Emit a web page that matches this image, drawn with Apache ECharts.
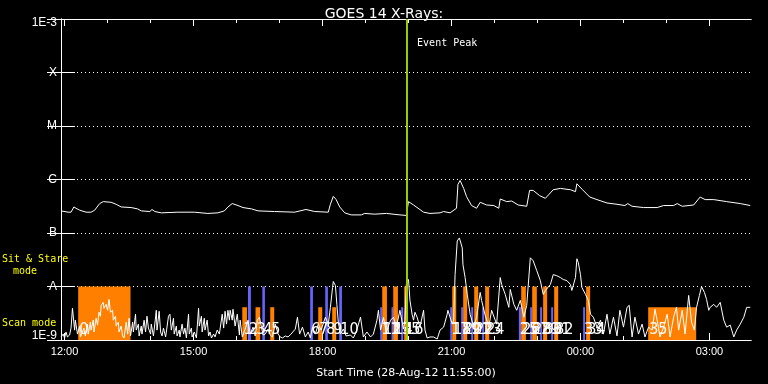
<!DOCTYPE html>
<html><head><meta charset="utf-8">
<script src="https://cdn.jsdelivr.net/npm/echarts@6/dist/echarts.min.js"></script>
<style>html,body{margin:0;padding:0;background:#000;}#c{width:768px;height:384px;}</style>
</head><body><div id="c"></div>
<script>
// ---- axis / labels ----
const titleText = 'GOES 14 X-Rays:';
const xAxisTitle = 'Start Time (28-Aug-12 11:55:00)';
// time unit: minutes after start (11:55)
const xMinMinutes = 0;
const xMaxMinutes = 963;
const majorTickMinutes = [5, 185, 365, 545, 725, 905];
const majorTickLabels = ['12:00', '15:00', '18:00', '21:00', '00:00', '03:00'];
const minorTickMinutes = [65, 125, 245, 305, 425, 485, 605, 665, 785, 845];
const yTickExponents = [-9, -8, -7, -6, -5, -4, -3];
const yTickLabels = ['1E-9', 'A', 'B', 'C', 'M', 'X', '1E-3'];
const eventPeakMinutes = 483;
const eventPeakText = 'Event Peak';
const sitStareText = ['Sit & Stare', 'mode'];
const scanText = 'Scan mode';

// ---- GOES long channel (1-8 A), flux in units of 1e-7 W/m^2 ----
const longTime = [0,10,14,18,21,26,35,42,47,54,59,70,77,84,98,107,112,124,127,131,140,163,186,205,219,228,233,239,247,254,266,275,298,326,342,354,373,376,380,384,389,396,405,419,424,438,454,473,482,485,492,506,515,529,534,543,552,554,557,562,566,573,580,585,594,604,611,613,622,629,638,650,654,659,668,676,687,697,711,718,720,727,738,748,762,776,787,791,797,813,832,841,855,860,867,883,892,899,911,929,948,962];
const longFluxE7 = [2.59,2.45,2.45,3.07,2.90,2.67,2.45,2.45,2.67,3.55,3.86,3.75,3.44,3.07,2.99,2.82,2.59,2.52,2.75,2.52,2.38,2.45,2.45,2.32,2.38,2.59,3.07,3.55,3.26,2.99,2.82,2.59,2.52,2.45,2.75,2.52,2.45,3.44,4.84,4.21,3.07,2.38,2.18,2.18,2.32,2.25,2.32,2.18,2.13,3.86,3.34,2.45,2.32,2.38,2.52,2.38,2.90,8.08,9.58,6.81,4.78,3.26,2.90,3.75,3.34,3.26,2.90,4.32,3.86,3.96,3.34,3.16,6.25,6.25,4.99,4.45,6.44,6.81,6.44,5.92,8.32,6.61,4.70,4.21,3.64,3.44,3.26,3.55,3.16,2.99,2.99,3.26,3.26,3.55,3.16,3.34,4.70,4.21,4.21,3.86,3.55,3.26];

// ---- GOES short channel (0.5-4 A), flux in units of 1e-9 W/m^2 ----
const shortTime = [0,3,5,7,9,12,14,16,19,20,23,26,27,30,32,34,37,38,41,42,45,46,49,51,53,55,56,59,60,63,65,67,69,72,73,76,77,80,81,84,86,88,91,93,95,97,100,101,104,105,108,109,112,113,116,118,120,122,125,126,129,130,133,134,137,139,141,143,146,147,150,152,154,157,158,161,162,165,166,169,171,173,175,178,179,182,183,186,189,192,193,196,197,200,201,204,206,208,210,213,215,218,221,225,227,229,231,233,235,236,239,240,243,246,249,250,253,257,261,264,268,271,274,277,280,282,285,289,292,295,299,303,306,309,313,317,321,327,330,333,337,341,345,348,351,355,359,363,369,373,376,379,380,383,385,387,390,394,398,404,408,412,418,422,427,432,436,441,443,446,450,454,460,464,468,473,478,480,482,485,487,490,492,494,497,501,506,508,511,515,520,525,529,534,539,540,546,548,550,553,556,560,561,564,567,571,576,580,585,587,592,597,601,608,613,615,620,625,627,632,636,641,646,650,655,659,664,669,673,676,683,687,692,697,701,706,711,713,715,718,720,722,725,727,732,736,739,743,748,753,757,762,766,771,776,780,785,790,793,797,801,806,811,815,820,825,829,833,836,841,846,850,855,859,862,867,871,876,880,884,887,891,894,898,901,904,906,911,915,920,925,929,934,939,943,948,953,957,962];
const shortFluxE9 = [1.14,1.29,1.09,1.41,1.14,1.24,1.67,3.91,1.53,2.35,1.29,1.82,1.14,1.41,1.67,1.19,1.98,1.29,2.15,1.53,2.35,1.41,2.55,1.9,3.3,2.78,4.45,5.05,3.91,4.64,3.59,5.74,3.3,3.59,2.35,2.78,1.82,2.15,1.41,1.82,1.19,1.09,2.15,1.29,2.55,1.19,2.15,1.41,3.03,1.53,1.98,1.19,1.82,1.29,2.35,1.41,2.78,1.67,1.29,1.98,1.19,1.53,3.59,1.53,3.44,1.41,1.19,1.67,1.14,1.41,2.78,3.03,1.53,2.55,1.29,1.82,1.19,1.53,1.14,1.98,1.29,1.67,1.09,3.03,1.29,1.67,1.14,1.41,1.09,3.91,1.82,2.78,1.41,2.55,1.53,2.35,1.19,1.41,1.09,1.29,1.14,1.53,1.29,3.03,1.67,3.44,1.98,3.59,2.35,3.59,2.35,3.75,1.82,3.03,1.24,2.35,1.14,1.6,2.35,1.29,1.74,1.19,2.35,2.67,1.67,1.24,1.29,1.6,1.24,1.14,1.98,1.29,1.14,1.09,1.19,1.14,1.29,1.6,2.67,1.29,1.74,1.14,1.41,1.09,1.74,1.29,1.98,1.53,2.67,1.98,4.08,9.6,12.4,10.4,4.64,2.15,1.29,1.6,1.19,1.24,1.09,1.41,2.67,1.14,1.41,1.14,1.29,2.35,3.59,1.53,2.67,1.41,2.35,2.67,1.74,3.59,1.6,2.35,10.9,13.5,5.5,3.03,2.35,3.3,2.67,1.74,3.59,1.53,1.09,1.14,1.14,1.04,1.53,1.74,3.03,3.59,1.98,2.35,16.7,71,80.9,52.7,25.5,14.7,7.11,3.03,1.74,2.67,7.74,5.5,2.9,1.74,3.59,1.98,14.7,10.9,7.11,4.08,8.8,4.64,3.59,5.5,2.67,4.45,34.4,30.3,19.8,12.9,7.11,8.43,10.9,16.7,15.9,14.7,13.5,12.9,10.9,8.43,7.74,14.7,33,27.8,16.7,9.6,7.11,5.5,3.03,2.67,1.74,2.35,1.29,3.03,1.29,2.67,1.19,3.59,1.74,4.08,4.45,1.14,2.67,1.29,1.98,1.14,1.74,1.53,3.75,1.98,1.14,1.74,3.03,1.14,2.67,4.08,1.53,3.59,1.29,6.81,2.15,1.53,4.08,6.81,10,7.74,5.74,3.59,4.08,4.64,4.08,5.05,2.35,1.74,1.9,1.14,1.53,1.98,2.67,4.08,4.08];

// ---- observation blocks (minutes after start) ----
const obsStart = [24,253,261,271.5,281,292,347.8,359,368.8,378.5,388.3,445.5,448.3,461.3,463.7,474.8,479,543.2,546,558.5,561.3,572.5,576.7,587.8,592,639,642.3,654.8,657.6,668.7,672.9,684.1,688.3,728.7,732.9,819.5];
const obsEnd   = [97,259.5,265,278,284.6,297.6,351.6,364.6,372.5,384.1,392.1,448.3,454.9,464.1,470.2,477.6,484,546,551.6,561.3,566.9,575.3,582.3,590.6,597.6,642.3,648.8,657.6,664.1,671.5,678.5,686.9,693.9,731.5,738.5,886.5];
const obsColorKey = ['o','o','b','o','b','o','b','o','b','o','b','b','o','b','o','b','o','b','o','b','o','b','o','b','o','b','o','b','o','b','o','b','o','b','o','o'];
const obsMode = ['sit','scan','sit','scan','sit','scan','sit','scan','sit','scan','sit','scan','sit','scan','sit','scan','sit','scan','sit','scan','sit','scan','sit','scan','sit','scan','sit','scan','sit','scan','sit','scan','sit','scan','sit','scan'];
const modeLevel = { sit: 1e-8, scan: 4.1e-9 };

const ORANGE = '#ff8000', BLUE = '#6464ff', GREEN = '#99cc00', YELLOW = '#ffff00';
const FONT = 'Liberation Sans';
const WIDE = 'DejaVu Sans';
const MONO = 'DejaVu Sans Mono';

const longData = longTime.map((t, i) => [t, longFluxE7[i] * 1e-7]);
const shortData = shortTime.map((t, i) => [t, shortFluxE9[i] * 1e-9]);
const obsData = obsStart.map((s, i) => [s, obsEnd[i], modeLevel[obsMode[i]], obsColorKey[i] === 'o' ? 0 : 1, i]);

const chart = echarts.init(document.getElementById('c'), null, { renderer: 'canvas' });

function xAxisDef(pos, ticks, len, labels) {
  return {
    type: 'value', position: pos, min: xMinMinutes, max: xMaxMinutes,
    axisLine: { show: true, onZero: false, lineStyle: { color: '#fff', width: 1 } },
    axisTick: { show: true, inside: true, length: len, customValues: ticks, lineStyle: { color: '#fff' } },
    axisLabel: labels ? {
      show: true, customValues: majorTickMinutes, color: '#fff', fontFamily: FONT, fontSize: 11, margin: 6,
      formatter: v => { const k = majorTickMinutes.indexOf(Math.round(v)); return k >= 0 ? majorTickLabels[k] : ''; }
    } : { show: false },
    splitLine: { show: false }
  };
}
function yAxisDef(pos, labels) {
  return {
    type: 'log', logBase: 10, position: pos, min: 1e-9, max: 1e-3, splitNumber: 6,
    axisLine: { show: true, lineStyle: { color: '#fff', width: 1 } },
    axisTick: { show: true, inside: true, length: 14, lineStyle: { color: '#fff' } },
    axisLabel: labels ? {
      show: true, color: '#fff', fontFamily: FONT, fontSize: 12, margin: 4,
      rich: { up: { fontFamily: FONT, fontSize: 12, color: '#fff', padding: [0, 0, 8, 0] },
              down: { fontFamily: FONT, fontSize: 12, color: '#fff', padding: [8, 0, 0, 0] } },
      formatter: v => {
        const e = Math.round(Math.log10(v));
        const k = yTickExponents.indexOf(e);
        if (k < 0) return '';
        if (k === 0) return '{up|' + yTickLabels[k] + '}';
        if (k === yTickExponents.length - 1) return '{down|' + yTickLabels[k] + '}';
        return yTickLabels[k];
      }
    } : { show: false },
    splitLine: labels ? { show: true, lineStyle: { color: '#fff', width: 1, type: [1, 3] } } : { show: false }
  };
}

const bottomX = xAxisDef('bottom', majorTickMinutes, 7, true);
bottomX.name = xAxisTitle;
bottomX.nameLocation = 'middle';
bottomX.nameGap = 28;
bottomX.nameTextStyle = { color: '#fff', fontFamily: WIDE, fontSize: 11 };

chart.setOption({
  animation: false,
  backgroundColor: '#000',
  title: { text: titleText, left: 'center', top: 2, textStyle: { color: '#fff', fontFamily: WIDE, fontSize: 14, fontWeight: 'normal' } },
  grid: { left: 61, right: 17, top: 19, bottom: 41, containLabel: false },
  xAxis: [bottomX, xAxisDef('bottom', minorTickMinutes, 4, false), xAxisDef('top', majorTickMinutes, 7, false), xAxisDef('top', minorTickMinutes, 4, false)],
  yAxis: [yAxisDef('left', true), yAxisDef('right', false)],
  series: [
    {
      type: 'custom', name: 'obs', xAxisIndex: 0, yAxisIndex: 0, z: 1,
      data: obsData, encode: { x: [0, 1], y: 2 },
      renderItem: (params, api) => {
        const p1 = api.coord([api.value(0), api.value(2)]);
        const p2 = api.coord([api.value(1), 1e-9]);
        return { type: 'rect', shape: { x: p1[0], y: p1[1], width: p2[0] - p1[0], height: p2[1] - p1[1] },
          style: { fill: api.value(3) === 0 ? ORANGE : BLUE } };
      }
    },
    {
      type: 'line', name: 'long', data: longData, showSymbol: false, z: 3,
      lineStyle: { color: '#fff', width: 1 },
      markLine: { silent: true, symbol: 'none', label: { show: false },
        lineStyle: { color: GREEN, width: 2, type: 'solid' }, data: [{ xAxis: eventPeakMinutes }] }
    },
    { type: 'line', name: 'short', data: shortData, showSymbol: false, z: 3, lineStyle: { color: '#fff', width: 1 } },
    {
      type: 'custom', name: 'obsLabels', z: 4, data: obsData, encode: { x: 0, y: 2 },
      renderItem: (params, api) => {
        const p = api.coord([api.value(0), 1e-9]);
        return { type: 'text', x: p[0] + 1, y: p[1] - 2,
          style: { text: String(api.value(4)), fill: '#fff', font: '16px "DejaVu Sans Condensed", "Liberation Sans Narrow", sans-serif',
            textAlign: 'left', textVerticalAlign: 'bottom' } };
      }
    }
  ]
});

const peakX = chart.convertToPixel({ xAxisIndex: 0 }, eventPeakMinutes);
chart.setOption({
  graphic: [
    { type: 'text', x: peakX + 10, y: 43, style: { text: eventPeakText, fill: '#fff', font: '10px "' + MONO + '"', textVerticalAlign: 'middle' } },
    { type: 'text', x: 2, y: 259, style: { text: sitStareText[0], fill: YELLOW, font: '10px "' + MONO + '"', textVerticalAlign: 'middle' } },
    { type: 'text', x: 13, y: 271, style: { text: sitStareText[1], fill: YELLOW, font: '10px "' + MONO + '"', textVerticalAlign: 'middle' } },
    { type: 'text', x: 2, y: 323, style: { text: scanText, fill: YELLOW, font: '10px "' + MONO + '"', textVerticalAlign: 'middle' } }
  ]
});
</script></body></html>
